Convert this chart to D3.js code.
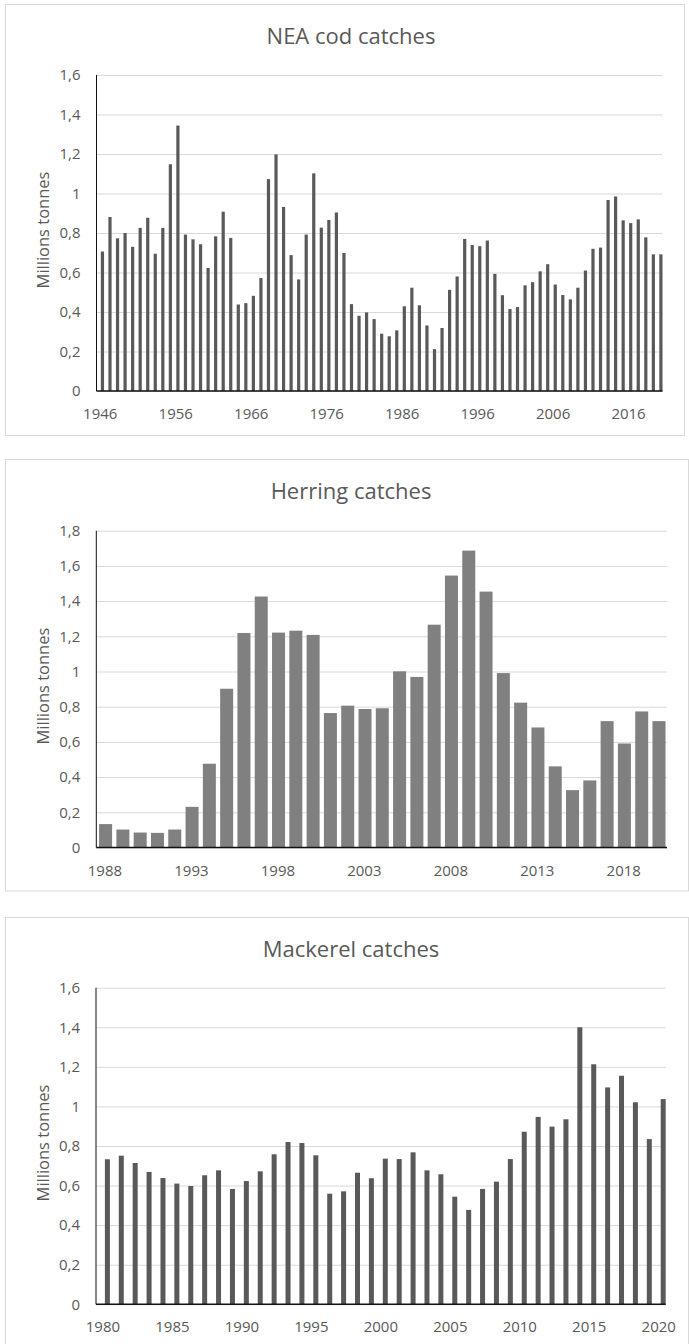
<!DOCTYPE html>
<html>
<head>
<meta charset="utf-8">
<script src="https://cdn.jsdelivr.net/npm/d3@7"></script>
<style>
  html, body { margin: 0; padding: 0; background: #ffffff; }
  svg { display: block; }
  text { font-family: "Open Sans", "Noto Sans", sans-serif; fill: #595959; }
</style>
</head>
<body>
<svg id="chart" width="689" height="1344"></svg>
<script>
// ---------- DATA ----------
const codYears = [1946,1947,1948,1949,1950,1951,1952,1953,1954,1955,1956,1957,1958,1959,1960,1961,1962,1963,1964,1965,
  1966,1967,1968,1969,1970,1971,1972,1973,1974,1975,1976,1977,1978,1979,1980,1981,1982,1983,1984,1985,
  1986,1987,1988,1989,1990,1991,1992,1993,1994,1995,1996,1997,1998,1999,2000,2001,2002,2003,2004,2005,
  2006,2007,2008,2009,2010,2011,2012,2013,2014,2015,2016,2017,2018,2019,2020];
const codCatch = [0.706,0.881,0.773,0.800,0.730,0.826,0.877,0.695,0.826,1.148,1.344,0.792,0.768,0.743,0.623,0.783,0.908,0.775,0.438,0.445,
  0.482,0.572,1.073,1.198,0.932,0.688,0.565,0.792,1.102,0.827,0.866,0.904,0.699,0.440,0.381,0.398,0.364,0.290,0.277,0.307,
  0.429,0.523,0.434,0.332,0.212,0.319,0.512,0.580,0.770,0.739,0.733,0.762,0.593,0.485,0.415,0.425,0.535,0.551,0.606,0.642,
  0.539,0.486,0.464,0.523,0.610,0.720,0.726,0.967,0.985,0.864,0.850,0.869,0.778,0.692,0.692];
const codXTicks = [1946,1956,1966,1976,1986,1996,2006,2016];
const codYTicks = [0,0.2,0.4,0.6,0.8,1.0,1.2,1.4,1.6];

const herringYears = [1988,1989,1990,1991,1992,1993,1994,1995,1996,1997,1998,1999,2000,2001,2002,2003,2004,
  2005,2006,2007,2008,2009,2010,2011,2012,2013,2014,2015,2016,2017,2018,2019,2020];
const herringCatch = [0.133,0.102,0.085,0.083,0.102,0.231,0.476,0.902,1.219,1.426,1.221,1.232,1.208,0.764,0.806,0.787,0.791,
  1.001,0.969,1.266,1.545,1.687,1.454,0.991,0.823,0.682,0.461,0.326,0.381,0.718,0.591,0.773,0.718];
const herringXTicks = [1988,1993,1998,2003,2008,2013,2018];
const herringYTicks = [0,0.2,0.4,0.6,0.8,1.0,1.2,1.4,1.6,1.8];

const mackerelYears = [1980,1981,1982,1983,1984,1985,1986,1987,1988,1989,1990,1991,1992,1993,1994,1995,1996,1997,1998,1999,2000,
  2001,2002,2003,2004,2005,2006,2007,2008,2009,2010,2011,2012,2013,2014,2015,2016,2017,2018,2019,2020];
const mackerelCatch = [0.733,0.751,0.714,0.669,0.638,0.610,0.598,0.652,0.677,0.583,0.623,0.672,0.758,0.820,0.815,0.753,0.559,0.571,0.665,0.637,0.736,
  0.734,0.768,0.677,0.657,0.544,0.477,0.583,0.620,0.734,0.872,0.947,0.898,0.935,1.400,1.213,1.096,1.155,1.021,0.835,1.037];
const mackerelXTicks = [1980,1985,1990,1995,2000,2005,2010,2015,2020];
const mackerelYTicks = [0,0.2,0.4,0.6,0.8,1.0,1.2,1.4,1.6];

const yAxisTitle = "Millions tonnes";

// ---------- DRAW ----------
const svg = d3.select("#chart");
const fmt = v => String(+v.toFixed(1)).replace(".", ",");

function panel(opt) {
  const g = svg.append("g");
  // frame
  g.append("rect")
    .attr("x", opt.box[0] + 0.5).attr("y", opt.box[1] + 0.5)
    .attr("width", opt.box[2] - opt.box[0]).attr("height", opt.box[3] - opt.box[1])
    .attr("fill", "#fff").attr("stroke", "#d9d9d9").attr("stroke-width", 1);

  const y = d3.scaleLinear().domain([0, d3.max(opt.yTicks)]).range([opt.y0, opt.y1]);
  const xLab = d3.scaleBand().domain(opt.years).range([opt.x0, opt.x1]).padding(0);
  const xBar = d3.scaleBand().domain(opt.years).range([opt.x0, opt.x1])
    .paddingInner(opt.pad).paddingOuter(opt.pad / 2).align(opt.align);

  // gridlines
  const grid = g.append("g").attr("transform", `translate(${opt.x0},0)`)
    .call(d3.axisLeft(y).tickValues(opt.yTicks).tickSize(-(opt.x1 - opt.x0)).tickFormat(""));
  grid.select(".domain").remove();
  grid.selectAll("line").attr("stroke", "#d9d9d9").attr("stroke-width", 1);

  // y tick labels
  const ya = g.append("g").attr("transform", `translate(${opt.x0},0)`)
    .call(d3.axisLeft(y).tickValues(opt.yTicks).tickSize(0).tickPadding(16).tickFormat(fmt));
  ya.select(".domain").remove();
  ya.selectAll("text").attr("font-size", 15).attr("fill", "#595959")
    .attr("font-family", '"Open Sans", sans-serif');

  // bars
  g.append("g").selectAll("rect").data(opt.values).join("rect")
    .attr("x", (d, i) => xBar(opt.years[i]))
    .attr("width", xBar.bandwidth())
    .attr("y", d => y(d))
    .attr("height", d => y(0) - y(d))
    .attr("fill", opt.color);

  // axis lines
  g.append("line").attr("x1", opt.x0).attr("x2", opt.x0).attr("y1", opt.y1).attr("y2", opt.y0)
    .attr("stroke", "#111").attr("stroke-width", 1);
  g.append("line").attr("x1", opt.x0).attr("x2", opt.x1).attr("y1", opt.y0).attr("y2", opt.y0)
    .attr("stroke", "#111").attr("stroke-width", 1.5);

  // x tick labels
  const xa = g.append("g").attr("transform", `translate(0,${opt.y0})`)
    .call(d3.axisBottom(xLab).tickValues(opt.xTicks).tickSize(0).tickFormat(d => String(d)));
  xa.select(".domain").remove();
  xa.selectAll("text").attr("y", 28).attr("dy", null).attr("font-size", 15).attr("fill", "#595959")
    .attr("font-family", '"Open Sans", sans-serif');

  // title
  g.append("text").attr("x", 351).attr("y", opt.box[1] + 40)
    .attr("text-anchor", "middle").attr("font-size", 22).text(opt.title);

  // y axis title
  g.append("text")
    .attr("transform", `translate(49,${(opt.y0 + opt.y1) / 2 - 3}) rotate(-90)`)
    .attr("text-anchor", "middle").attr("font-size", 16.5).text(yAxisTitle);
}

panel({ title: "NEA cod catches", years: codYears, values: codCatch, xTicks: codXTicks, yTicks: codYTicks,
  box: [5, 4, 684, 435], x0: 96.5, x1: 662.5, y0: 391, y1: 75, pad: 0.576, align: 1, color: "#595959" });

panel({ title: "Herring catches", years: herringYears, values: herringCatch, xTicks: herringXTicks, yTicks: herringYTicks,
  box: [5, 459, 688, 890.5], x0: 96.3, x1: 667, y0: 847.5, y1: 530.7, pad: 0.248, align: 0.65, color: "#808080" });

panel({ title: "Mackerel catches", years: mackerelYears, values: mackerelCatch, xTicks: mackerelXTicks, yTicks: mackerelYTicks,
  box: [5, 917, 688, 1350], x0: 96, x1: 665.7, y0: 1304.3, y1: 987.7, pad: 0.64, align: 1, color: "#595959" });
</script>
</body>
</html>
